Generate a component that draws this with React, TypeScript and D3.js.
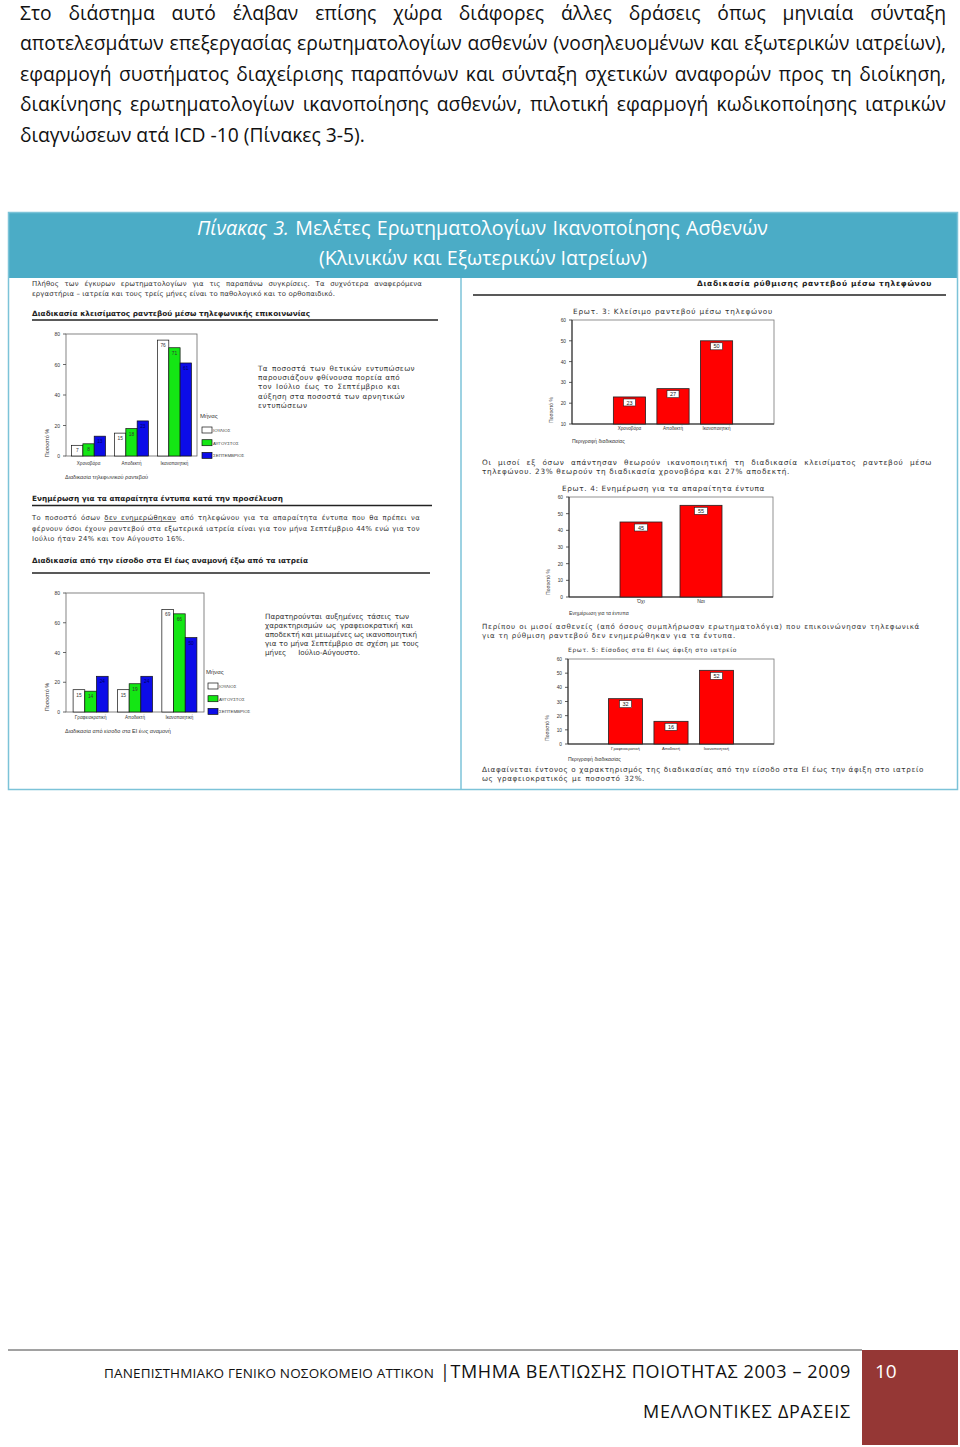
import React from "react";
import * as d3 from "d3";

const W = 960;
const H = 1447;

// ---------- DATA ----------
const introLines = [
  "Στο διάστημα αυτό έλαβαν επίσης χώρα διάφορες άλλες δράσεις όπως μηνιαία σύνταξη",
  "αποτελεσμάτων επεξεργασίας ερωτηματολογίων ασθενών (νοσηλευομένων και εξωτερικών ιατρείων),",
  "εφαρμογή συστήματος διαχείρισης παραπόνων και σύνταξη σχετικών αναφορών προς τη διοίκηση,",
  "διακίνησης ερωτηματολογίων ικανοποίησης ασθενών, πιλοτική εφαρμογή κωδικοποίησης ιατρικών",
  "διαγνώσεων ατά ICD -10 (Πίνακες 3-5).",
];
const months = ["ΙΟΥΛΙΟΣ", "ΑΥΓΟΥΣΤΟΣ", "ΣΕΠΤΕΜΒΡΙΟΣ"];
const phoneCategories = ["Χρονοβόρα", "Αποδεκτή", "Ικανοποιητική"];
const phoneJuly = [7, 15, 76];
const phoneAugust = [8, 18, 71];
const phoneSeptember = [13, 23, 61];
const erCategories = ["Γραφειοκρατική", "Αποδεκτή", "Ικανοποιητική"];
const erJuly = [15, 15, 69];
const erAugust = [14, 19, 66];
const erSeptember = [24, 24, 50];
const q3Categories = ["Χρονοβόρα", "Αποδεκτή", "Ικανοποιητική"];
const q3Values = [23, 27, 50];
const q4Categories = ["Όχι", "Ναι"];
const q4Values = [45, 55];
const q5Categories = ["Γραφειοκρατική", "Αποδεκτή", "Ικανοποιητική"];
const q5Values = [32, 16, 52];
const groupedTicks = [0, 20, 40, 60, 80];
const q3Ticks = [10, 20, 30, 40, 50, 60];
const q45Ticks = [0, 10, 20, 30, 40, 50, 60];

// ---------- STYLE ----------
const MAIN = '"Open Sans", "Noto Sans", sans-serif';
const SMALL = '"Liberation Sans", Arial, sans-serif';
const WIDE = '"DejaVu Sans", "Liberation Sans", sans-serif';
const monthFill = ["#ffffff", "#14e614", "#0c0ce8"];
const HEADER = "#4bacc6";
const BORDER = "#7cc3d8";
const GREY = "#333333";

let ctx: CanvasRenderingContext2D | null = null;
function measure(text: string, size: number, family: string, weight = "normal", italic = false) {
  if (!ctx) ctx = document.createElement("canvas").getContext("2d");
  if (!ctx) return text.length * size * 0.5;
  ctx.font = `${italic ? "italic " : ""}${weight} ${size}px ${family}`;
  return ctx.measureText(text).width;
}

type Part = { t: string; u?: boolean; i?: boolean };
function JText(props: {
  x: number; y: number; w?: number; size: number; family?: string; weight?: string;
  fill?: string; parts?: Part[]; text?: string; mode?: "ws" | "ls"; ls?: number;
}) {
  const { x, y, w, size, family = WIDE, weight = "normal", fill = GREY, mode = "ws" } = props;
  let ls = props.ls || 0;
  const parts: Part[] = props.parts || [{ t: props.text || "" }];
  const full = parts.map((p) => p.t).join("");
  const nat = parts.reduce((s, p) => s + measure(p.t, size, family, weight, !!p.i), 0) + ls * full.length;
  let ws = 0;
  if (w && mode === "ws") {
    const gaps = (full.match(/ /g) || []).length;
    if (gaps) ws = (w - nat) / gaps;
  } else if (w && mode === "ls") {
    ls += (w - nat) / Math.max(1, full.length);
  }
  return (
    <text x={x} y={y} fontSize={size} fontFamily={family} fontWeight={weight} fill={fill}
      style={{ wordSpacing: `${ws}px`, letterSpacing: `${ls}px`, whiteSpace: "pre" }}>
      {parts.map((p, i) => (
        <tspan key={i} textDecoration={p.u ? "underline" : undefined} fontStyle={p.i ? "italic" : undefined}>{p.t}</tspan>
      ))}
    </text>
  );
}

type PLine = { t?: string; parts?: Part[]; w: number };
function Para(props: { x: number; y: number; lh: number; size: number; lines: PLine[]; fill?: string }) {
  const { x, y, lh, size, lines, fill = GREY } = props;
  const txt = (l: PLine) => (l.parts ? l.parts.map((p) => p.t).join("") : l.t || "");
  const ls = Math.max(0, Math.min(...lines.map((l) => (l.w - measure(txt(l), size, WIDE)) / txt(l).length)));
  return (
    <g>
      {lines.map((l, i) => (
        <JText key={i} x={x} y={y + i * lh} w={l.w} size={size} ls={ls} text={l.t} parts={l.parts} fill={fill} />
      ))}
    </g>
  );
}

type GCfg = {
  x0: number; x1: number; yTop: number; yBot: number; cats: string[]; series: number[][];
  pi: number; po: number; catY: number; xTitle: string; xTitleY: number; yTitleY: number;
  legX: number; legY: number;
};

function GroupedChart({ c }: { c: GCfg }) {
  const x = d3.scaleBand().domain(c.cats).range([c.x0, c.x1]).paddingInner(c.pi).paddingOuter(c.po);
  const xs = d3.scaleBand().domain(months).range([0, x.bandwidth()]);
  const y = d3.scaleLinear().domain([0, 80]).range([c.yBot, c.yTop]);
  return (
    <g>
      <rect x={c.x0} y={c.yTop} width={c.x1 - c.x0} height={c.yBot - c.yTop} fill="none" stroke="#666" strokeWidth={0.8} />
      {groupedTicks.map((t) => (
        <g key={t}>
          <line x1={c.x0 - 3} x2={c.x0} y1={y(t)} y2={y(t)} stroke="#444" strokeWidth={0.8} />
          <text x={c.x0 - 6} y={y(t) + 2} fontSize={5} fontFamily={SMALL} fill={GREY} textAnchor="end">{t}</text>
        </g>
      ))}
      {c.cats.map((cat, ci) => (
        <g key={cat}>
          {months.map((m, mi) => {
            const v = c.series[mi][ci];
            const bx = (x(cat) || 0) + (xs(m) || 0);
            return (
              <g key={m}>
                <rect x={bx} y={y(v)} width={xs.bandwidth()} height={c.yBot - y(v)} fill={monthFill[mi]} stroke="#111" strokeWidth={0.7} />
                <text x={bx + xs.bandwidth() / 2} y={y(v) + 7} fontSize={4.8} fontFamily={SMALL} fill={mi === 2 ? "#000066" : "#333"} textAnchor="middle">{v}</text>
              </g>
            );
          })}
          <text x={(x(cat) || 0) + x.bandwidth() / 2} y={c.catY} fontSize={4.6} fontFamily={SMALL} fill={GREY} textAnchor="middle">{cat}</text>
        </g>
      ))}
      <text transform={`translate(${c.x0 - 17},${c.yTitleY}) rotate(-90)`} fontSize={5.5} fontFamily={SMALL} fill={GREY} textAnchor="middle">Ποσοστό %</text>
      <text x={c.x0 - 1} y={c.xTitleY} fontSize={5.5} fontFamily={SMALL} fill={GREY}>{c.xTitle}</text>
      <text x={c.legX - 2} y={c.legY} fontSize={6} fontFamily={SMALL} fill={GREY}>Μήνας</text>
      {months.map((m, mi) => (
        <g key={m}>
          <rect x={c.legX} y={c.legY + 9 + mi * 12.7} width={10} height={6} fill={monthFill[mi]} stroke="#111" strokeWidth={0.7} />
          <text x={c.legX + 11} y={c.legY + 14 + mi * 12.7} fontSize={4.4} fontFamily={SMALL} fill={GREY}>{m}</text>
        </g>
      ))}
    </g>
  );
}

type RCfg = {
  x0: number; x1: number; yTop: number; yBot: number; cats: string[]; values: number[];
  domain: [number, number]; ticks: number[]; pi: number; po: number; catY: number;
  xTitle: string; xTitleY: number; yTitleY: number; catSize: number; boxW: number;
};

function RedChart({ c }: { c: RCfg }) {
  const x = d3.scaleBand().domain(c.cats).range([c.x0, c.x1]).paddingInner(c.pi).paddingOuter(c.po);
  const y = d3.scaleLinear().domain(c.domain).range([c.yBot, c.yTop]);
  return (
    <g>
      <rect x={c.x0} y={c.yTop} width={c.x1 - c.x0} height={c.yBot - c.yTop} fill="none" stroke="#777" strokeWidth={0.8} />
      <line x1={c.x0} x2={c.x0} y1={c.yTop} y2={c.yBot} stroke="#222" strokeWidth={1} />
      <line x1={c.x0} x2={c.x1} y1={c.yBot} y2={c.yBot} stroke="#222" strokeWidth={1} />
      {c.ticks.map((t) => (
        <g key={t}>
          <line x1={c.x0 - 3} x2={c.x0} y1={y(t)} y2={y(t)} stroke="#333" strokeWidth={0.8} />
          <text x={c.x0 - 6} y={y(t) + 2} fontSize={4.8} fontFamily={SMALL} fill={GREY} textAnchor="end">{t}</text>
        </g>
      ))}
      {c.cats.map((cat, i) => {
        const v = c.values[i];
        const bx = x(cat) || 0;
        const cx = bx + x.bandwidth() / 2;
        return (
          <g key={cat}>
            <rect x={bx} y={y(v)} width={x.bandwidth()} height={c.yBot - y(v)} fill="#ff0000" stroke="#222" strokeWidth={0.8} />
            <rect x={cx - c.boxW / 2} y={y(v) + 2} width={c.boxW} height={7} fill="#fff" stroke="#222" strokeWidth={0.6} />
            <text x={cx} y={y(v) + 7.6} fontSize={5.5} fontFamily={SMALL} fill="#222" textAnchor="middle">{v}</text>
            <text x={cx} y={c.catY} fontSize={c.catSize} fontFamily={SMALL} fill={GREY} textAnchor="middle">{cat}</text>
          </g>
        );
      })}
      <text transform={`translate(${c.x0 - 19},${c.yTitleY}) rotate(-90)`} fontSize={5} fontFamily={SMALL} fill={GREY} textAnchor="middle">Ποσοστό %</text>
      <text x={c.x0} y={c.xTitleY} fontSize={5.2} fontFamily={SMALL} fill={GREY}>{c.xTitle}</text>
    </g>
  );
}

export default function App() {
  const phone: GCfg = {
    x0: 66, x1: 197, yTop: 334, yBot: 456, cats: phoneCategories,
    series: [phoneJuly, phoneAugust, phoneSeptember], pi: 0.21, po: 0.13,
    catY: 465, xTitle: "Διαδικασία τηλεφωνικού ραντεβού", xTitleY: 479, yTitleY: 443,
    legX: 202, legY: 418,
  };
  const er: GCfg = {
    x0: 66, x1: 204, yTop: 593, yBot: 712, cats: erCategories,
    series: [erJuly, erAugust, erSeptember], pi: 0.21, po: 0.16,
    catY: 719, xTitle: "Διαδικασία από είσοδο στα ΕΙ έως αναμονή", xTitleY: 733, yTitleY: 697,
    legX: 208, legY: 674,
  };
  const q3: RCfg = {
    x0: 572, x1: 774, yTop: 320, yBot: 424, cats: q3Categories, values: q3Values,
    domain: [10, 60], ticks: q3Ticks, pi: 0.26, po: 0.95, catY: 430,
    xTitle: "Περιγραφή διαδικασίας", xTitleY: 443, yTitleY: 410, catSize: 4.6, boxW: 12,
  };
  const q4: RCfg = {
    x0: 569, x1: 773, yTop: 497, yBot: 597, cats: q4Categories, values: q4Values,
    domain: [0, 60], ticks: q45Ticks, pi: 0.3, po: 0.85, catY: 603,
    xTitle: "Ενημέρωση για τα έντυπα", xTitleY: 615, yTitleY: 582, catSize: 5, boxW: 13,
  };
  const q5: RCfg = {
    x0: 568, x1: 774, yTop: 659, yBot: 744, cats: q5Categories, values: q5Values,
    domain: [0, 60], ticks: q45Ticks, pi: 0.25, po: 0.89, catY: 750,
    xTitle: "Περιγραφή διαδικασίας", xTitleY: 761, yTitleY: 728, catSize: 4.2, boxW: 12,
  };

  const introSize = 17.5 * 345 / measure(introLines[4], 17.5, MAIN);
  const headSize = 18 * 328 / measure("(Κλινικών και Εξωτερικών Ιατρείων)", 18, MAIN);

  return (
    <svg width={W} height={H} viewBox={`0 0 ${W} ${H}`} style={{ position: "absolute", left: 0, top: 0, background: "#fff" }}>
      <rect x={0} y={0} width={W} height={H} fill="#fff" />
      {introLines.map((l, i) => (
        <JText key={i} x={20} y={19.5 + i * 30.5} w={i < 4 ? 926 : undefined} size={introSize} family={MAIN} fill="#111" text={l} />
      ))}

      {/* table */}
      <rect x={8} y={212} width={950} height={66} fill={HEADER} />
      <JText x={197} y={235} w={571} size={headSize} family={MAIN} fill="#fff"
        parts={[{ t: "Πίνακας 3.", i: true }, { t: " Μελέτες Ερωτηματολογίων Ικανοποίησης Ασθενών" }]} />
      <JText x={319} y={265} size={headSize} family={MAIN} fill="#fff" text="(Κλινικών και Εξωτερικών Ιατρείων)" />
      <rect x={8.5} y={212.5} width={949} height={577} fill="none" stroke={BORDER} strokeWidth={1.5} />
      <line x1={461} x2={461} y1={278} y2={790} stroke={BORDER} strokeWidth={1.5} />

      {/* left column */}
      <Para x={32} y={286} lh={10} size={6.9} lines={[
        { t: "Πλήθος των έγκυρων ερωτηματολογίων για τις παραπάνω συγκρίσεις. Τα συχνότερα αναφερόμενα", w: 390 },
        { t: "εργαστήρια – ιατρεία και τους τρείς μήνες είναι το παθολογικό και το ορθοπαιδικό.", w: 303 },
      ]} />
      <JText x={32} y={316} w={278} size={7.3} weight="bold" fill="#222" mode="ls" text="Διαδικασία κλεισίματος ραντεβού μέσω τηλεφωνικής επικοινωνίας" />
      <line x1={32} x2={438} y1={320} y2={320} stroke="#222" strokeWidth={1.3} />

      <GroupedChart c={phone} />
      <Para x={258} y={371} lh={9.2} size={7.2} lines={[
        { t: "Τα ποσοστά των θετικών εντυπώσεων", w: 157 },
        { t: "παρουσιάζουν φθίνουσα πορεία από", w: 142 },
        { t: "τον Ιούλιο έως το Σεπτέμβριο και", w: 142 },
        { t: "αύξηση στα ποσοστά των αρνητικών", w: 147 },
        { t: "εντυπώσεων", w: 52 },
      ]} />

      <JText x={32} y={501} w={251} size={7.3} weight="bold" fill="#222" mode="ls" text="Ενημέρωση για τα απαραίτητα έντυπα κατά την προσέλευση" />
      <line x1={32} x2={432} y1={505.5} y2={505.5} stroke="#222" strokeWidth={1.3} />
      <Para x={32} y={520} lh={10.5} size={6.8} lines={[
        { parts: [{ t: "Το ποσοστό όσων " }, { t: "δεν ενημερώθηκαν", u: true }, { t: " από τηλεφώνου για τα απαραίτητα έντυπα που θα πρέπει να" }], w: 388 },
        { t: "φέρνουν όσοι έχουν ραντεβού στα εξωτερικά ιατρεία είναι για τον μήνα Σεπτέμβριο 44% ενώ για τον", w: 388 },
        { t: "Ιούλιο ήταν 24% και τον Αύγουστο 16%.", w: 153 },
      ]} />
      <JText x={32} y={563} w={276} size={7.3} weight="bold" fill="#222" mode="ls" text="Διαδικασία από την είσοδο στα ΕΙ έως αναμονή έξω από τα ιατρεία" />
      <line x1={32} x2={430} y1={573} y2={573} stroke="#222" strokeWidth={1.3} />

      <GroupedChart c={er} />
      <Para x={265} y={619} lh={9} size={7.2} lines={[
        { t: "Παρατηρούνται αυξημένες τάσεις των", w: 144 },
        { t: "χαρακτηρισμών ως γραφειοκρατική και", w: 148 },
        { t: "αποδεκτή και μειωμένες ως ικανοποιητική", w: 152 },
        { t: "για το μήνα Σεπτέμβριο σε σχέση με τους", w: 154 },
        { t: "μήνες Ιούλιο-Αύγουστο.", w: 95 },
      ]} />

      {/* right column */}
      <JText x={697} y={286} w={235} size={7.5} weight="bold" fill="#222" mode="ls" text="Διαδικασία ρύθμισης ραντεβού μέσω τηλεφώνου" />
      <line x1={473} x2={946} y1={295} y2={295} stroke="#222" strokeWidth={1.3} />
      <JText x={573} y={314} w={200} size={7.3} mode="ls" text="Ερωτ. 3: Κλείσιμο ραντεβού μέσω τηλεφώνου" />
      <RedChart c={q3} />
      <Para x={482} y={465} lh={9} size={7.3} lines={[
        { t: "Οι μισοί εξ όσων απάντησαν θεωρούν ικανοποιητική τη διαδικασία κλεισίματος ραντεβού μέσω", w: 450 },
        { t: "τηλεφώνου. 23% θεωρούν τη διαδικασία χρονοβόρα και 27% αποδεκτή.", w: 308 },
      ]} />

      <JText x={562} y={491} w={203} size={7.3} mode="ls" text="Ερωτ. 4: Ενημέρωση για τα απαραίτητα έντυπα" />
      <RedChart c={q4} />
      <Para x={482} y={629} lh={9} size={7.1} lines={[
        { t: "Περίπου οι μισοί ασθενείς (από όσους συμπλήρωσαν ερωτηματολόγια) που επικοινώνησαν τηλεφωνικά", w: 438 },
        { t: "για τη ρύθμιση ραντεβού δεν ενημερώθηκαν για τα έντυπα.", w: 254 },
      ]} />

      <JText x={568} y={652} w={169} size={6} mode="ls" text="Ερωτ. 5: Είσοδος στα ΕΙ έως άφιξη στο ιατρείο" />
      <RedChart c={q5} />
      <Para x={482} y={772} lh={9} size={7.2} lines={[
        { t: "Διαφαίνεται έντονος ο χαρακτηρισμός της διαδικασίας από την είσοδο στα ΕΙ έως την άφιξη στο ιατρείο", w: 442 },
        { t: "ως γραφειοκρατικός με ποσοστό 32%.", w: 163 },
      ]} />

      {/* footer */}
      <line x1={8} x2={862} y1={1350} y2={1350} stroke="#444" strokeWidth={1} />
      <rect x={862} y={1350} width={96} height={95} fill="#953735" />
      <text x={875} y={1378} fontSize={19} fontFamily={MAIN} fill="#fff">10</text>
      <JText x={104} y={1378} w={330} size={13.5} family={MAIN} fill="#111" mode="ls" text="ΠΑΝΕΠΙΣΤΗΜΙΑΚΟ ΓΕΝΙΚΟ ΝΟΣΟΚΟΜΕΙΟ ΑΤΤΙΚΟΝ" />
      <JText x={440} y={1378} w={411} size={18} family={MAIN} fill="#111" mode="ls" text="|ΤΜΗΜΑ ΒΕΛΤΙΩΣΗΣ ΠΟΙΟΤΗΤΑΣ 2003 – 2009" />
      <JText x={643} y={1418} w={208} size={18} family={MAIN} fill="#111" mode="ls" text="ΜΕΛΛΟΝΤΙΚΕΣ ΔΡΑΣΕΙΣ" />
    </svg>
  );
}
